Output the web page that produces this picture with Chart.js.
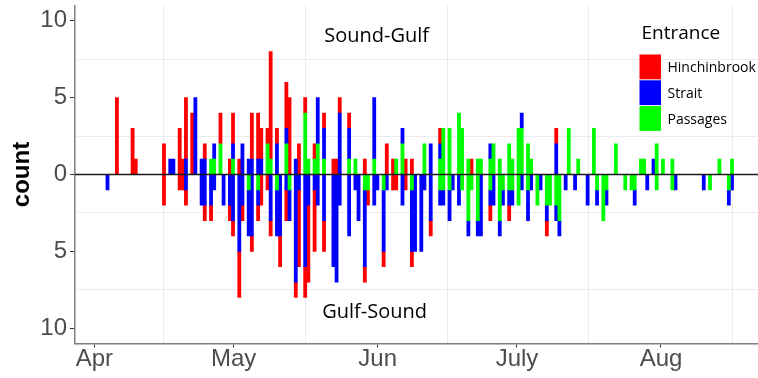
<!DOCTYPE html>
<html>
<head>
<meta charset="utf-8">
<script src="https://cdn.jsdelivr.net/npm/chart.js@4.4.1/dist/chart.umd.min.js"></script>
<style>
  html, body { margin: 0; padding: 0; background: #fff; }
</style>
</head>
<body>
<canvas id="chart" width="758" height="378"></canvas>
<script>
const entrances = ["Hinchinbrook", "Strait", "Passages"];
const entranceColors = ["#ff0000", "#0000ff", "#00ff00"];
const directionLabels = ["Sound-Gulf", "Gulf-Sound"];

const monthLabels = ["Apr", "May", "Jun", "July", "Aug"];
const monthDays = [0, 30, 61, 91, 122];            // days since 1 Apr
const midMonthDays = [15, 45.5, 76, 106.5, 137.5];
const yTickValues = [-10, -7.5, -5, -2.5, 0, 2.5, 5, 7.5, 10];

// histogram: 200 bins, bin 0 centred on day 2.84
const firstBinDay = 2.84;
const binDays = 0.6756;

// non-empty bins
const bins = [
  0, 3, 8, 9, 18, 20, 21, 23, 24, 25,
  27, 28, 30, 31, 33, 34, 36, 37, 39, 40,
  42, 43, 45, 46, 48, 49, 51, 52, 54, 55,
  57, 58, 60, 61, 63, 64, 66, 67, 69, 72,
  73, 74, 77, 79, 80, 82, 83, 85, 86, 88,
  89, 91, 92, 94, 95, 97, 98, 100, 101, 103,
  106, 107, 109, 110, 112, 113, 115, 116, 118, 119,
  122, 123, 125, 126, 128, 129, 131, 132, 134, 135,
  137, 138, 140, 141, 143, 144, 146, 147, 149, 150,
  153, 155, 156, 158, 159, 162, 165, 167, 168, 170,
  171, 172, 174, 175, 177, 180, 181, 190, 192, 195,
  198, 199
];

// Sound-Gulf counts
const sgPassages = [
  0,0,0,0,0,0,0,0,0,0, 0,0,0,0,1,1,2,0,0,1, 0,0,0,0,0,0,2,1,0,0,
  2,0,0,0,4,1,1,2,1,0, 0,0,1,1,0,0,0,1,0,0, 0,0,1,2,0,0,0,0,2,0,
  1,3,3,0,4,3,1,0,1,1, 1,2,1,0,2,1,3,3,2,1, 0,0,0,0,0,0,0,3,0,1,
  0,3,0,0,0,2,0,0,0,1, 1,0,0,2,1,1,0,0,0,1, 0,1
];
const sgStrait = [
  0,0,0,0,0,1,1,0,0,1, 0,5,1,1,0,1,0,0,0,1, 0,2,1,1,1,1,0,0,2,0,
  1,0,1,0,0,0,0,3,2,0, 0,4,2,0,0,0,0,4,0,0, 0,0,0,1,0,0,0,0,0,2,
  1,0,0,0,0,0,0,0,0,0, 1,0,0,0,0,0,0,1,0,0, 0,0,0,0,2,0,0,0,0,0,
  0,0,0,0,0,0,0,0,0,0, 0,0,1,0,0,0,0,0,0,0, 0,0
];
const sgHinch = [
  0,5,3,1,2,0,0,3,1,4, 4,0,0,1,0,0,2,0,1,2, 1,0,0,3,3,2,1,7,1,0,
  3,5,0,2,1,0,1,0,1,1, 1,1,1,0,0,1,0,0,0,0, 2,1,0,0,1,1,0,0,0,0,
  1,0,0,0,0,0,0,1,0,0, 0,0,0,0,0,0,0,0,0,0, 0,0,0,0,1,0,0,0,0,0,
  0,0,0,0,0,0,0,0,0,0, 0,0,0,0,0,0,0,0,0,0, 0,0
];

// Gulf-Sound counts (drawn below zero)
const gsPassages = [
  0,0,0,0,0,0,0,0,0,0, 0,0,0,0,0,0,0,0,0,0, 0,0,1,0,1,0,0,0,1,0,
  0,1,0,0,0,0,0,0,0,0, 0,0,0,0,0,1,1,0,0,1, 0,0,0,0,0,1,0,0,0,0,
  1,1,1,0,0,1,3,1,3,0, 1,0,3,1,1,1,2,0,1,0, 2,0,2,2,2,3,0,0,0,0,
  0,0,1,3,1,0,1,1,1,0, 0,0,0,1,0,1,0,0,1,0, 1,0
];
const gsStrait = [
  1,0,0,0,0,0,0,0,0,1, 0,0,2,2,2,1,0,2,2,3, 5,2,3,4,1,0,0,3,3,4,
  1,2,7,1,6,2,1,2,3,6, 7,2,4,1,3,5,0,2,1,4, 1,0,0,2,0,4,5,5,1,3,
  1,1,2,1,2,0,1,0,1,4, 1,2,1,1,1,1,0,1,2,1, 0,1,1,0,1,1,1,0,1,0,
  2,0,1,0,1,0,0,0,1,0, 0,1,0,0,0,0,1,1,0,0, 1,1
];
const gsHinch = [
  0,0,0,0,2,0,0,1,1,1, 0,0,0,1,1,0,0,0,1,1, 3,1,0,1,1,2,1,1,0,2,
  2,0,1,5,2,5,4,0,2,0, 0,0,0,0,0,1,1,0,0,1, 0,1,1,0,1,1,0,0,0,1,
  0,0,0,0,0,0,0,0,0,0, 1,0,0,0,1,0,0,0,0,0, 0,0,1,0,0,0,0,0,0,0,
  0,0,0,0,0,0,0,0,0,0, 0,0,0,0,0,0,0,0,0,0, 0,0
];

const xMin = -4.155;
const xMax = 142.885;
const clear = "rgba(0,0,0,0)";
const gridGrey = "#ebebeb";

// stacking order from zero outwards: Passages, Strait, Hinchinbrook
const series = [
  ["Passages", sgPassages, 1], ["Strait", sgStrait, 1], ["Hinchinbrook", sgHinch, 1],
  ["Passages", gsPassages, -1], ["Strait", gsStrait, -1], ["Hinchinbrook", gsHinch, -1]
];

const datasets = series.map(([name, vals, sign]) => ({
  label: name,
  data: bins.map((b, i) => ({ x: firstBinDay + b * binDays, y: vals[i] ? sign * vals[i] : null })),
  backgroundColor: entranceColors[entrances.indexOf(name)],
  borderWidth: 0,
  barPercentage: 1,
  categoryPercentage: 1,
  stack: "all"
}));

const overlay = {
  id: "overlay",
  afterDatasetsDraw(chart) {
    const { ctx, chartArea: a, scales: { x, y } } = chart;
    ctx.save();

    // zero line
    const y0 = y.getPixelForValue(0);
    ctx.strokeStyle = "#1a1a1a";
    ctx.lineWidth = 1.6;
    ctx.beginPath();
    ctx.moveTo(a.left, y0);
    ctx.lineTo(a.right, y0);
    ctx.stroke();

    // direction labels
    ctx.fillStyle = "#000";
    ctx.font = '20px "Open Sans"';
    ctx.textAlign = "center";
    ctx.textBaseline = "middle";
    const xJun = x.getPixelForValue(monthDays[2]);
    ctx.fillText(directionLabels[0], xJun - 1, y.getPixelForValue(9));
    ctx.fillText(directionLabels[1], xJun - 3, y.getPixelForValue(-9));

    // legend
    ctx.textAlign = "left";
    ctx.font = '19px "Open Sans"';
    ctx.fillText("Entrance", 641.5, 34);
    ctx.font = '14px "Open Sans"';
    entrances.forEach((name, i) => {
      const top = 54.5 + i * 25.8;
      ctx.fillStyle = entranceColors[i];
      ctx.fillRect(639.5, top, 21.5, 24.8);
      ctx.fillStyle = "#000";
      ctx.fillText(name, 667.5, top + 14);
    });

    ctx.restore();
  }
};

new Chart(document.getElementById("chart"), {
  type: "bar",
  data: { datasets },
  options: {
    responsive: false,
    animation: false,
    events: [],
    devicePixelRatio: 1,
    layout: { padding: { top: 5.5, right: 0, left: 0, bottom: 0 } },
    plugins: { legend: { display: false }, tooltip: { enabled: false } },
    scales: {
      x: {
        type: "linear",
        min: xMin,
        max: xMax,
        offset: false,
        stacked: true,
        afterFit(s) { s.height = 34.5; s.paddingLeft = 0; s.paddingRight = 0; },
        afterBuildTicks(s) {
          s.ticks = monthDays.concat(midMonthDays).sort((p, q) => p - q).map(v => ({ value: v }));
        },
        ticks: {
          autoSkip: false,
          maxRotation: 0,
          padding: 0,
          color: "#4d4d4d",
          font: { family: "Liberation Sans", size: 24, lineHeight: 1 },
          callback: v => {
            const i = monthDays.indexOf(v);
            return i >= 0 ? monthLabels[i] : "";
          }
        },
        grid: {
          offset: false,
          lineWidth: 1,
          tickLength: 4,
          color: c => (c.tick && monthDays.includes(c.tick.value) ? clear : gridGrey),
          tickColor: c => (c.tick && monthDays.includes(c.tick.value) ? "#333" : clear)
        },
        border: { display: true, color: "#7f7f7f", width: 1.5 }
      },
      y: {
        min: -11,
        max: 11,
        stacked: true,
        afterFit(s) { s.width = 75; s.paddingTop = 0; s.paddingBottom = 0; },
        afterBuildTicks(s) { s.ticks = yTickValues.map(v => ({ value: v })); },
        ticks: {
          autoSkip: false,
          padding: 3,
          color: "#4d4d4d",
          font: { family: "Liberation Sans", size: 24, lineHeight: 0.4 },
          callback: v => (v % 5 === 0 ? String(Math.abs(v)) : "")
        },
        grid: {
          lineWidth: 1,
          tickLength: 5,
          color: c => (c.tick && c.tick.value % 5 !== 0 ? gridGrey : clear),
          tickColor: c => (c.tick && c.tick.value % 5 === 0 ? "#333" : clear)
        },
        border: { display: true, color: "#7f7f7f", width: 1.5 },
        title: {
          display: true,
          text: "count",
          color: "#000",
          padding: { top: 8, bottom: 0 },
          font: { family: "Liberation Sans", size: 24, weight: "bold" }
        }
      }
    }
  },
  plugins: [overlay]
});
</script>
</body>
</html>
